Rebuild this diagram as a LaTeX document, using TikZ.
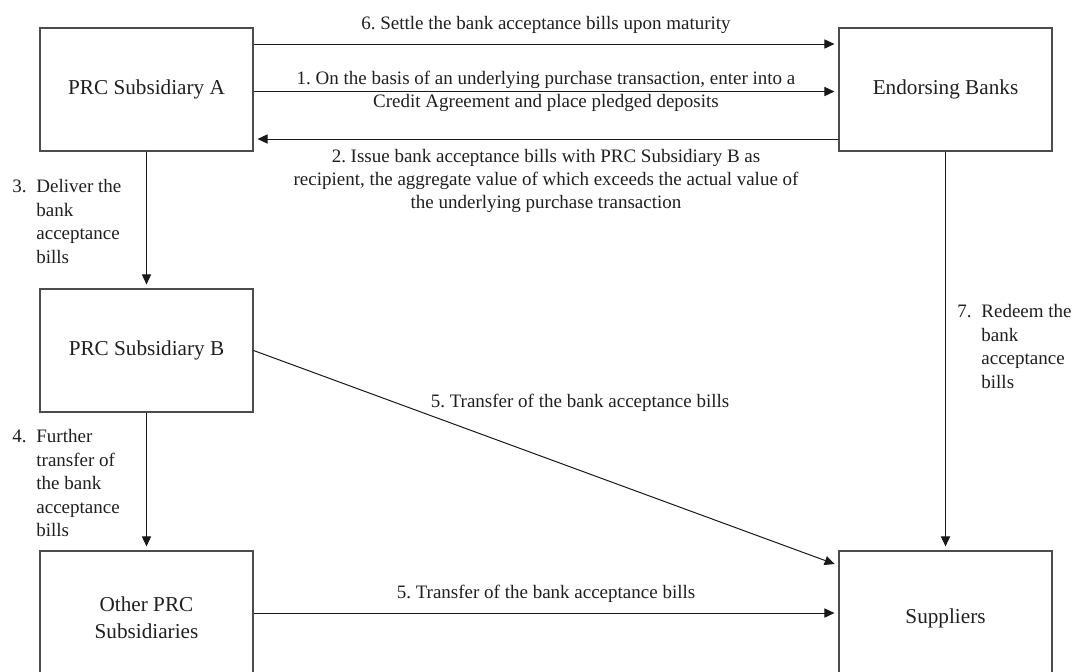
\documentclass[tikz,border=0pt]{standalone}
\usepackage{fontspec}
\setmainfont{Liberation Serif}
\usepackage{tikz}
\usetikzlibrary{arrows.meta,calc}
\frenchspacing

\begin{document}
\begin{tikzpicture}[x=0.5pt, y=-0.5pt,
  >={Triangle[length=5pt,width=4.6pt]},
  box/.style={draw=black!70, line width=0.6pt, minimum width=106.5pt, minimum height=61.5pt,
              align=center, text=black!88, font=\fontsize{10.6}{13.3}\selectfont},
  lab/.style={align=center, inner sep=5pt, text=black!88, font=\fontsize{9.5}{11.4}\selectfont},
  numlab/.style={inner sep=0pt, anchor=north west, text=black!88, font=\fontsize{9.5}{11.8}\selectfont},
  flow/.style={->, line width=0.5pt, black!90, shorten >=2pt},
]
\useasboundingbox (0,0) rectangle (1074,671);
\clip (0,0) rectangle (1074,671);
\node[box] (subA) at (146.5,89.5) {PRC Subsidiary A};
\node[box] (banks) at (945.5,89.5) {Endorsing Banks};
\node[box] (subB) at (146.5,350.5) {PRC Subsidiary B};
\node[box, minimum height=67pt] (others) at (146.5,618) {Other PRC\\Subsidiaries};
\node[box, minimum height=67pt] (supp) at (945.5,618) {Suppliers};
\draw[flow] ($(subA.east)+(0,-45.5)$) -- node[lab, above]{6. Settle the bank acceptance bills upon maturity}
  ($(banks.west)+(0,-45.5)$);
\draw[flow] ($(subA.east)+(0,2)$) -- node[lab]{1. On the basis of an underlying purchase transaction, enter into a\\
  Credit Agreement and place pledged deposits} ($(banks.west)+(0,2)$);
\draw[flow] ($(banks.west)+(0,49.5)$) -- node[lab, below]{2. Issue bank acceptance bills with PRC Subsidiary B as\\
  recipient, the aggregate value of which exceeds the actual value of\\the underlying purchase transaction}
  ($(subA.east)+(0,49.5)$);
\draw[flow] (subA.south) -- (subB.north);
\draw[flow] (subB.south) -- (others.north);
\draw[flow] (banks.south) -- (supp.north);
\coordinate (suppin) at ($(supp.north west)+(0,15)$);
\draw[flow] (subB.east) -- (suppin);
\node[lab] (transB) at (580,403) {5. Transfer of the bank acceptance bills};
\draw[flow] ($(others.east)+(0,-5)$) -- node[lab, above]{5. Transfer of the bank acceptance bills}
  ($(supp.west)+(0,-5)$);
% numbered side notes
\node[numlab] (deliver) at (12,175.5) {\begin{tabular}{@{}p{12pt}@{}l@{}}3. & Deliver the\\ & bank\\ & acceptance\\ & bills\end{tabular}};
\node[numlab] (further) at (12,425.5) {\begin{tabular}{@{}p{12pt}@{}l@{}}4. & Further\\ & transfer of\\ & the bank\\ & acceptance\\ & bills\end{tabular}};
\node[numlab] (redeem) at (957,300.5) {\begin{tabular}{@{}p{12pt}@{}l@{}}7. & Redeem the\\ & bank\\ & acceptance\\ & bills\end{tabular}};
\end{tikzpicture}
\end{document}
